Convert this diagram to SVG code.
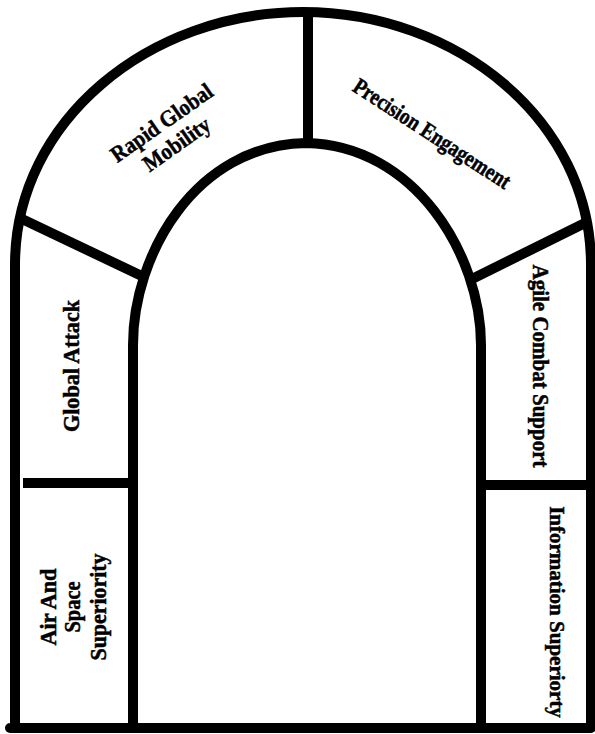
<svg xmlns="http://www.w3.org/2000/svg" width="595" height="734" viewBox="0 0 595 734">
<style>
.ln{fill:none;stroke:#000;stroke-width:10;stroke-linejoin:round}
.lb{font-family:"Liberation Serif","Times New Roman",serif;font-weight:bold;font-size:23px;fill:#000;stroke:#000;stroke-width:0.5;text-anchor:middle}
</style>
<rect x="0" y="0" width="595" height="734" fill="#fff"/>
<g id="frame">
<path class="ln" d="M15,265 C15,120 150,12 303,12 C456,12 591,120 591,265 L591,728 L10,728 L15,728 Z"/>
<path class="ln" d="M133,728 L133,345 C133,255 195,145 306,143 C415,145 481,255 481,345 L481,728"/>
</g>
<g id="dividers">
<line class="ln" x1="308" y1="12" x2="308" y2="143"/>
<line class="ln" x1="22" y1="219" x2="146" y2="278"/>
<line class="ln" x1="587" y1="222" x2="470" y2="280"/>
<line class="ln" x1="23" y1="483" x2="133" y2="483"/>
<line class="ln" x1="481" y1="485" x2="595" y2="485"/>
</g>
<g id="rapid-global-mobility">
<g transform="translate(166,129) rotate(-35)">
<text class="lb" x="0" y="0" textLength="119" lengthAdjust="spacingAndGlyphs">Rapid Global</text>
<text class="lb" x="0" y="26" textLength="77" lengthAdjust="spacingAndGlyphs">Mobility</text>
</g>
</g>
<g id="precision-engagement">
<text class="lb" transform="translate(428,140) rotate(33)" textLength="183" lengthAdjust="spacingAndGlyphs">Precision Engagement</text>
</g>
<g id="global-attack">
<text class="lb" transform="translate(79,366) rotate(-90)" textLength="132" lengthAdjust="spacingAndGlyphs">Global Attack</text>
</g>
<g id="air-and-space-superiority">
<g transform="translate(0,607) rotate(-90)">
<text class="lb" x="0" y="56" textLength="77" lengthAdjust="spacingAndGlyphs">Air And</text>
<text class="lb" x="0" y="80" textLength="51" lengthAdjust="spacingAndGlyphs">Space</text>
<text class="lb" x="0" y="106" textLength="107" lengthAdjust="spacingAndGlyphs">Superiority</text>
</g>
</g>
<g id="agile-combat-support">
<text class="lb" transform="translate(533,366) rotate(90)" textLength="203" lengthAdjust="spacingAndGlyphs">Agile Combat Support</text>
</g>
<g id="information-superiority">
<text class="lb" transform="translate(550,612) rotate(90)" style="font-size:21px">Information Superiorty</text>
</g>
</svg>
